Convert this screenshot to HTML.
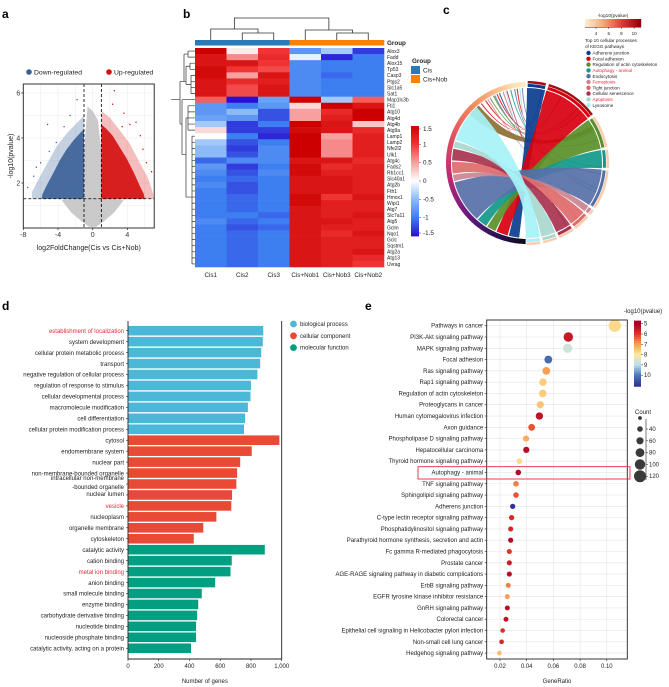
<!DOCTYPE html>
<html><head><meta charset="utf-8">
<style>
html,body{margin:0;padding:0;background:#fff;}
svg{display:block;font-family:"Liberation Sans",Arial,sans-serif;}
</style></head>
<body>
<svg id="fig" width="669" height="687" viewBox="0 0 669 687" xmlns="http://www.w3.org/2000/svg">
<text x="2" y="18" font-size="12" font-weight="bold">a</text>
<text x="183" y="18" font-size="12" font-weight="bold">b</text>
<text x="443" y="14" font-size="12" font-weight="bold">c</text>
<text x="2" y="310" font-size="12" font-weight="bold">d</text>
<text x="365" y="310" font-size="12" font-weight="bold">e</text>
<g id="pa"></g>
<g id="pb"></g>
<g id="pc"></g>
<g id="pd"></g>
<g id="pe"></g>
</svg>
<script>
var NS="http://www.w3.org/2000/svg";
function mk(tag,attrs,parent,txt){var e=document.createElementNS(NS,tag);for(var k in attrs)e.setAttribute(k,attrs[k]);if(txt!==undefined)e.textContent=txt;parent.appendChild(e);return e;}

/* ---------- Panel a data ---------- */
var volXTicks=[-8,-4,0,4];
var volYTicks=[2,4,6];
var volDownSparse=[[-1,1.3],[-1,5.0],[-2,4.6],[-3,4.2],[-4.2,3.6],[-5.2,2.9],[-6.2,2.2],[-7,1.6],[-7,1.3]];
var volDown=[[-1,1.3],[-1,4.4],[-1.5,4.2],[-2.2,3.9],[-3,3.5],[-3.8,3.0],[-4.6,2.4],[-5.3,1.9],[-5.8,1.5],[-5.9,1.3]];
var volUpSparse=[[1,1.3],[1,5.2],[2,4.9],[3,4.4],[4.2,3.8],[5.3,3.0],[6.4,2.2],[7,1.5],[7,1.3]];
var volUp=[[1,1.3],[1,4.6],[1.6,4.4],[2.3,4.1],[3.1,3.6],[3.9,3.1],[4.7,2.5],[5.4,1.9],[5.9,1.5],[6,1.3]];
var volNs=[[-3.6,1.25],[-2.5,0.7],[-1.3,0.3],[-0.4,0.05],[0.4,0.05],[1.3,0.3],[2.5,0.7],[3.6,1.25],[1,1.35],[1,3.4],[0.6,4.8],[0,5.2],[-0.6,5.4],[-1,3.4],[-1,1.35]];
var volOutDown=[[-5.2,4.6],[-7.5,1.8],[-6.8,2.3],[-1.8,5.7],[-4.2,3.8],[-6,2.9],[-3.3,4.5],[-5,3.4],[-6.5,2.7],[-2.6,5.0]];
var volOutUp=[[2.5,6.1],[3.4,4.5],[5,4.7],[6.8,2.5],[2.3,5.5],[5.8,3.5],[4.3,4.6],[6.2,2.9],[3.6,5.1],[5.5,4.1]];

/* ---------- Panel b data ---------- */
var genes=["Alox3","Fadd","Alox15","Tp53","Casp3","Ptgs2","Slc1a5","Sat1","Map1lc3b","Fti1","Atg10","Atg4d","Atg4b","Atg9a","Lamp1","Lamp2","Nfe2l2","Ulk1","Atg4c","Fads2","Rb1cc1","Slc40a1","Atg2b","Fth1","Hmox1","Wipi1","Atg7","Slc7a11","Atg5","Gclm","Nqo1","Gclc","Sqstm1","Atg2a","Atg13","Uvrag"];
var samples=["Cis1","Cis2","Cis3","Cis+Nob1","Cis+Nob3","Cis+Nob2"];
var heat=[
[1.5,0.1,1.0,-0.8,-0.4,-1.3],[1.3,0.6,1.1,-0.1,-1.4,-1.0],[1.3,1.3,1.0,-0.9,-1.0,-1.0],[1.4,1.0,0.9,-0.9,-1.0,-1.0],
[1.4,0.5,1.3,-0.9,-1.1,-1.0],[1.3,1.1,1.2,-0.9,-1.0,-1.0],[1.3,0.9,1.3,-0.9,-1.0,-1.0],[1.3,0.9,1.3,-0.9,-1.0,-1.0],
[0.8,-1.5,-0.7,1.5,-0.4,0.8],[-0.8,-1.0,-0.8,0.2,1.5,1.3],[-0.8,-0.5,-1.2,0.5,1.1,1.5],[-0.7,-0.8,-1.2,0.5,1.2,1.5],
[-0.4,-1.3,-1.0,1.5,1.3,0.3],[0.2,-1.3,-1.3,1.4,1.3,1.1],[0.0,-1.0,-1.4,1.5,0.5,1.2],[-0.4,-1.2,-1.0,1.5,0.6,1.2],
[-0.5,-1.3,-0.9,1.5,0.6,1.2],[-0.5,-1.2,-0.9,1.5,0.6,1.2],[-1.1,-0.9,-0.9,1.3,1.3,1.1],[-0.8,-1.3,-1.0,1.4,1.1,1.2],
[-0.9,-1.2,-0.9,1.4,1.2,1.2],[-1.0,-1.1,-1.0,1.3,1.3,1.2],[-0.9,-1.2,-1.0,1.3,1.3,1.2],[-1.0,-1.2,-1.0,1.3,1.3,1.2],
[-1.0,-1.1,-1.0,1.4,1.0,1.3],[-1.0,-1.1,-1.0,1.4,1.2,1.2],[-1.0,-1.1,-1.0,1.3,1.2,1.2],[-1.0,-1.0,-1.1,1.3,1.2,1.3],
[-0.9,-1.1,-1.0,1.3,1.3,1.2],[-1.0,-1.2,-1.1,1.3,1.2,1.2],[-1.0,-1.1,-1.0,1.3,1.1,1.3],[-1.0,-1.1,-1.0,1.3,1.2,1.2],
[-1.0,-1.1,-1.0,1.3,1.2,1.2],[-1.0,-1.1,-1.0,1.3,1.2,1.3],[-1.0,-1.1,-1.0,1.3,1.2,1.1],[-1.0,-1.1,-1.0,1.3,1.2,1.0]];
var heatTicks=[1.5,1,0.5,0,-0.5,-1,-1.5];

/* ---------- Panel c data ---------- */
var pathNames=["Adherens junction","Focal adhesion","Regulation of actin cytoskeleton","Autophagy - animal","Endocytosis","Ferroptosis","Tight junction","Cellular senescence","Apoptosis","Lysosome"];
var pathColors=["#0b3d8f","#d7000f","#5a8f29","#12998a","#5670a8","#c98593","#e06a6a","#a8324f","#a8d8cf","#a6f2f7"];
var pathRed=[false,false,false,true,false,true,false,false,true,false];
var pathArcStart=[0,15,55,80,95,125,131,145,158,170];
var pathArcEnd=[14,54,79,94,124,130,144,157,169,181];
var geneArcStart=[186,195,205,213,222,256,262,272,282,288];
var geneArcEnd=[194,204,212,221,255,261,271,281,287,318];
var thinPath=[1,1,2,4,0,6,7,3,4,1,8,2,5,9,1,4];
var thinGene=[322,326,330,334,338,341,344,347,350,352,354,333,328,343,336,356];

/* ---------- Panel d data ---------- */
var goTerms=["establishment of localization","system development","cellular protein metabolic process","transport","negative regulation of cellular process","regulation of response to stimulus","cellular developmental process","macromolecule modification","cell differentiation","cellular protein modification process","cytosol","endomembrane system","nuclear part","non-membrane-bounded organelle","intracellular non-membrane|-bounded organelle","nuclear lumen","vesicle","nucleoplasm","organelle membrane","cytoskeleton","catalytic activity","cation binding","metal ion binding","anion binding","small molecule binding","enzyme binding","carbohydrate derivative binding","nucleotide binding","nucleoside phosphate binding","catalytic activity, acting on a protein"];
var goCounts=[880,877,867,860,842,800,797,780,762,755,985,805,730,710,705,677,672,575,490,428,890,675,667,567,480,457,450,443,443,410];
var goCat=[0,0,0,0,0,0,0,0,0,0,1,1,1,1,1,1,1,1,1,1,2,2,2,2,2,2,2,2,2,2];
var goHighlight=["establishment of localization","vesicle","metal ion binding"];
var goCatNames=["biological process","cellular component","molecular function"];
var goXTicks=[0,200,400,600,800,1000];
var goXTickLabels=["0","200","400","600","800","1,000"];

/* ---------- Panel e data ---------- */
var kegg=["Pathways in cancer","PI3K-Akt signaling pathway","MAPK signaling pathway","Focal adhesion","Ras signaling pathway","Rap1 signaling pathway","Regulation of actin cytoskeleton","Proteoglycans in cancer","Human cytomegalovirus infection","Axon guidance","Phospholipase D signaling pathway","Hepatocellular carcinoma","Thyroid hormone signaling pathway","Autophagy - animal","TNF signaling pathway","Sphingolipid signaling pathway","Adherens junction","C-type lectin receptor signaling pathway","Phosphatidylinositol signaling pathway","Parathyroid hormone synthesis, secretion and actin","Fc gamma R-mediated phagocytosis","Prostate cancer","AGE-RAGE signaling pathway in diabetic complications","ErbB signaling pathway","EGFR tyrosine kinase inhibitor resistance","GnRH signaling pathway","Colorectal cancer","Epithelial cell signaling in Helicobacter pylori infection","Non-small cell lung cancer","Hedgehog signaling pathway"];
var keggRatio=[0.106,0.0712,0.0707,0.0562,0.0547,0.0522,0.052,0.0502,0.0495,0.0437,0.0395,0.0397,0.0345,0.0337,0.032,0.032,0.0295,0.0287,0.028,0.028,0.027,0.027,0.027,0.0262,0.0255,0.0255,0.0245,0.022,0.0212,0.0195];
var keggLogP=[7.8,5.5,8.7,10.2,7.0,7.6,7.6,7.5,5.4,6.3,7.2,5.3,7.8,5.2,6.7,6.3,11,5.8,5.8,5.2,6.0,5.6,5.3,6.7,7.0,5.3,5.4,5.9,5.8,7.4];
var keggCount=[125,88,86,68,66,64,64,60,62,55,48,48,42,40,40,40,36,36,34,34,34,34,34,32,32,32,32,28,28,28];
var keggXTicks=[0.02,0.04,0.06,0.08,0.10];
var keggXTickLabels=["0.02","0.04","0.06","0.08","0.10"];
var cbTicks=[5,6,7,8,9,10];
var countTicks=[40,60,80,100,120];

/* ================= Panel a ================= */
(function(){
var g=document.getElementById("pa");
function ax(v){return 58+(v+4)*8.67;} function ay(v){return 228-v*22.5;}
var L=ax(-8),R=ax(7.1),T=ay(6.4),B=ay(0);
mk("rect",{x:L,y:T,width:R-L,height:B-T,fill:"#fff"},g);
for(var v=-8;v<=6;v+=2){var l=mk("line",{x1:ax(v),x2:ax(v),y1:T,y2:B,stroke:"#ececec","stroke-width":0.6},g);}
for(var v=1;v<=6;v+=1){var l=mk("line",{x1:L,x2:R,y1:ay(v),y2:ay(v),stroke:"#ececec","stroke-width":0.6},g);}
function poly(pts,fill,op,name){var s=pts.map(function(p){return ax(p[0])+","+ay(p[1]);}).join(" ");var e=mk("polygon",{points:s,fill:fill,opacity:op,"stroke-linejoin":"round"},g);}
poly(volNs,"#c4c4c4",0.9,"not-significant-points");
poly(volDownSparse,"#5a7aa8",0.35,"down-regulated-sparse-points");
poly(volUpSparse,"#e04545",0.35,"up-regulated-sparse-points");
poly(volDown,"#3a5f96",0.9,"down-regulated-points");
poly(volUp,"#d40d0d",0.9,"up-regulated-points");
volOutDown.forEach(function(p){var c=mk("circle",{cx:ax(p[0]),cy:ay(p[1]),r:0.7,fill:"#3a5f96"},g);});
volOutUp.forEach(function(p){var c=mk("circle",{cx:ax(p[0]),cy:ay(p[1]),r:0.7,fill:"#d40d0d"},g);});
[-1,1].forEach(function(v){var l=mk("line",{x1:ax(v),x2:ax(v),y1:T,y2:B,stroke:"#000","stroke-width":0.8,"stroke-dasharray":"3,2"},g);});
var hl=mk("line",{x1:L,x2:R,y1:ay(1.3),y2:ay(1.3),stroke:"#000","stroke-width":0.8,"stroke-dasharray":"3,2"},g);
var fr=mk("rect",{x:L,y:T,width:R-L,height:B-T,fill:"none",stroke:"#333","stroke-width":1},g);
volXTicks.forEach(function(v){mk("line",{x1:ax(v),x2:ax(v),y1:B,y2:B+2,stroke:"#333","stroke-width":0.8},g);var t=mk("text",{x:ax(v),y:B+9,"font-size":7,"text-anchor":"middle",fill:"#333"},g,String(v));});
volYTicks.forEach(function(v){mk("line",{x1:L-2,x2:L,y1:ay(v),y2:ay(v),stroke:"#333","stroke-width":0.8},g);var t=mk("text",{x:L-3,y:ay(v)+2.5,"font-size":7,"text-anchor":"end",fill:"#333"},g,String(v));});
var xt=mk("text",{x:(L+R)/2,y:250,"font-size":7,"text-anchor":"middle",fill:"#222"},g,"log2FoldChange(Cis vs Cis+Nob)");
var yt=mk("text",{x:0,y:0,"font-size":7,"text-anchor":"middle",fill:"#222",transform:"translate(13,"+((T+B)/2)+") rotate(-90)"},g,"-log10(pvalue)");
var d1=mk("circle",{cx:29,cy:72,r:2.8,fill:"#3a5f96"},g);
var t1=mk("text",{x:34,y:74.5,"font-size":6.8,fill:"#222"},g,"Down-regulated");
var d2=mk("circle",{cx:109,cy:72,r:2.8,fill:"#d40d0d"},g);
var t2=mk("text",{x:114,y:74.5,"font-size":6.8,fill:"#222"},g,"Up-regulated");
})();

/* ================= Panel b ================= */
(function(){
var g=document.getElementById("pb");
var X0=195,Y0=48,CW=31.5,RH=219/36;
var stops=[[-1.5,[42,15,208]],[-1,[61,127,240]],[-0.5,[140,186,248]],[0,[255,255,255]],[0.5,[248,160,160]],[1,[240,52,52]],[1.5,[204,0,0]]];
function col(v){v=Math.max(-1.5,Math.min(1.5,v));for(var i=0;i<stops.length-1;i++){if(v<=stops[i+1][0]){var f=(v-stops[i][0])/(stops[i+1][0]-stops[i][0]);var a=stops[i][1],b=stops[i+1][1];return "rgb("+a.map(function(x,k){return Math.round(x+(b[k]-x)*f);}).join(",")+")";}}return "rgb(204,0,0)";}
heat.forEach(function(row,i){row.forEach(function(v,j){var r=mk("rect",{x:X0+j*CW,y:Y0+i*RH,width:CW+0.3,height:RH+0.3,fill:col(v)},g);});
var t=mk("text",{x:X0+6*CW+3,y:Y0+i*RH+RH/2+1.8,"font-size":5,fill:"#222"},g,genes[i]);});
samples.forEach(function(s,j){var gb=mk("rect",{x:X0+j*CW,y:40,width:CW+0.3,height:5.5,fill:j<3?"#2a7ab5":"#ff8000"},g);
var t=mk("text",{x:X0+j*CW+CW/2,y:277,"font-size":6.3,"text-anchor":"middle",fill:"#222"},g,s);});
var gt=mk("text",{x:387,y:45,"font-size":6.3,"font-weight":"bold",fill:"#222"},g,"Group");
function cx(j){return X0+(j+0.5)*CW;}
var dd="M"+cx(1)+",40V33H"+cx(2)+"V40 M"+cx(0)+",40V29H"+((cx(1)+cx(2))/2)+"V33 M"+cx(4)+",40V33H"+cx(5)+"V40 M"+cx(3)+",40V30H"+((cx(4)+cx(5))/2)+"V33 M"+((cx(0)+(cx(1)+cx(2))/2)/2)+",29V18H"+((cx(3)+(cx(4)+cx(5))/2)/2)+"V30";
var cd=mk("path",{d:dd,fill:"none",stroke:"#333","stroke-width":0.8},g);
function ry(i){return Y0+(i+0.5)*RH;}
var p="";
for(var i=0;i<8;i++){p+="M195,"+ry(i)+"H"+(i<2?188:(i<4?190:191));}
p+="M188,"+ry(0)+"V"+ry(1)+"M190,"+ry(2)+"V"+ry(3)+"M191,"+ry(4)+"V"+ry(7)+"M186,"+((ry(2)+ry(3))/2)+"H190M186,"+((ry(4)+ry(7))/2)+"H191M186,"+((ry(2)+ry(3))/2)+"V"+((ry(4)+ry(7))/2)+"M184,"+((ry(0)+ry(1))/2)+"H188M184,"+((ry(0)+ry(1))/2)+"V"+ry(5)+"H186";
for(var i=8;i<36;i++){p+="M195,"+ry(i)+"H"+(i<9?182:(i<14?188:192));}
p+="M188,"+ry(9)+"V"+ry(13)+"M192,"+ry(14)+"V"+ry(35)+"M186,"+ry(11)+"H188M186,"+ry(24)+"H192M186,"+ry(11)+"V"+ry(24)+"M182,"+ry(8)+"V"+ry(17)+"H186";
p+="M180,"+ry(5)+"H184M180,"+ry(12)+"H182M180,"+ry(5)+"V"+ry(12)+"M171,"+ry(8)+"H180";
var rd=mk("path",{d:p,fill:"none",stroke:"#333","stroke-width":0.7},g);
var lt=mk("text",{x:412,y:63,"font-size":6.3,"font-weight":"bold",fill:"#222"},g,"Group");
var b1=mk("rect",{x:411,y:66,width:9,height:8,fill:"#2a7ab5"},g);
var b2=mk("rect",{x:411,y:75,width:9,height:8,fill:"#ff8000"},g);
var l1=mk("text",{x:423,y:72.5,"font-size":6.3,fill:"#222"},g,"Cis");
var l2=mk("text",{x:423,y:81.5,"font-size":6.3,fill:"#222"},g,"Cis+Nob");
var cbT=126,cbB=236;function cy(v){return cbT+(1.5-v)/3*(cbB-cbT);}
for(var k=0;k<60;k++){var v=1.5-k*3/60;var r=mk("rect",{x:411,y:cy(v),width:8,height:(cbB-cbT)/60+0.4,fill:col(v-0.025)},g);}
heatTicks.forEach(function(v){mk("line",{x1:419,x2:421,y1:cy(v)+(v===1.5?3:v===-1.5?-3:0),y2:cy(v)+(v===1.5?3:v===-1.5?-3:0),stroke:"#333","stroke-width":0.5},g);var t=mk("text",{x:423,y:cy(v)+(v===1.5?5:v===-1.5?-1:2),"font-size":6.3,fill:"#222"},g,String(v));});
})();

/* ================= Panel c ================= */
(function(){
var g=document.getElementById("pc");
var CX=527,CY=163,RI=75;
function P(a,r){var t=a*Math.PI/180;return [CX+r*Math.sin(t),CY-r*Math.cos(t)];}
function arcSeg(a1,a2,r1,r2,fill,name){var p1=P(a1,r2),p2=P(a2,r2),p3=P(a2,r1),p4=P(a1,r1);var lg=(a2-a1)>180?1:0;var d="M"+p1+"A"+r2+","+r2+" 0 "+lg+" 1 "+p2+"L"+p3+"A"+r1+","+r1+" 0 "+lg+" 0 "+p4+"Z";var e=mk("path",{d:d,fill:fill},g);}
function ribbon(a1,a2,b1,b2,fill,op,name){var r=RI;var A1=P(a1,r),A2=P(a2,r),B1=P(b1,r),B2=P(b2,r);var d="M"+A1+"A"+r+","+r+" 0 0 1 "+A2+"Q"+CX+","+CY+" "+B1+"A"+r+","+r+" 0 0 1 "+B2+"Q"+CX+","+CY+" "+A1+"Z";var e=mk("path",{d:d,fill:fill,opacity:op},g);}
thinPath.forEach(function(pi,k){var a=pathArcStart[pi]+(pathArcEnd[pi]-pathArcStart[pi])*((k*37)%10)/10;ribbon(a,a+0.9,thinGene[k],thinGene[k]+0.9,pathColors[pi],0.8,"thin-ribbon");});
ribbon(60,64,310,320,"#8b6b2e",0.9,"ribbon-olive");
pathNames.forEach(function(n,i){ribbon(pathArcStart[i],pathArcEnd[i],geneArcStart[i],geneArcEnd[i],pathColors[i],0.92,"ribbon-"+i);});
var gs=[[180,[10,10,18]],[200,[40,16,80]],[230,[106,26,128]],[260,[192,40,112]],[290,[224,80,96]],[320,[245,144,96]],[350,[253,224,176]],[360,[255,240,208]]];
function gcol(a){for(var i=0;i<gs.length-1;i++){if(a<=gs[i+1][0]){var f=(a-gs[i][0])/(gs[i+1][0]-gs[i][0]);return "rgb("+gs[i][1].map(function(x,k){return Math.round(x+(gs[i+1][1][k]-x)*f);}).join(",")+")";}}return "#fff";}
for(var a=181;a<359;a+=2){arcSeg(a,a+2.2,76,81,gcol(a+1),"gene-ring-segment");}
pathNames.forEach(function(n,i){arcSeg(pathArcStart[i]+0.5,pathArcEnd[i]-0.5,76,79,pathColors[i],"pathway-arc");arcSeg(pathArcStart[i]+0.5,pathArcEnd[i]-0.5,79.5,82,i<2?"#a01010":"#f8cdb0","pathway-pvalue-arc");});
var lt=mk("text",{x:613,y:17,"font-size":4.8,"text-anchor":"middle",fill:"#222"},g,"-log10(pvalue)");
var ls=[[253,235,205],[245,165,110],[220,60,50],[150,0,10]];
for(var k=0;k<28;k++){var f=k/27*3;var i0=Math.min(2,Math.floor(f)),ff=f-i0;var c="rgb("+ls[i0].map(function(x,m){return Math.round(x+(ls[i0+1][m]-x)*ff);}).join(",")+")";var r=mk("rect",{x:585+k*2,y:19,width:2.2,height:8,fill:c},g);}
mk("line",{x1:585,x2:641,y1:27.5,y2:27.5,stroke:"#222","stroke-width":0.6},g);
[4,6,8,10].forEach(function(v,k){var x=596+k*12.7;mk("line",{x1:x,x2:x,y1:27,y2:29,stroke:"#222","stroke-width":0.5},g);var t=mk("text",{x:x,y:35,"font-size":4.5,"text-anchor":"middle",fill:"#222"},g,String(v));});
var h1=mk("text",{x:585,y:42,"font-size":4.6,fill:"#222"},g,"Top 10 cellular processes");
var h2=mk("text",{x:585,y:48,"font-size":4.6,fill:"#222"},g,"of KEGG pathways");
pathNames.forEach(function(n,i){var y=53+i*5.8;var c=mk("circle",{cx:588.5,cy:y,r:2.2,fill:pathColors[i]},g);var t=mk("text",{x:592.5,y:y+1.6,"font-size":4.6,fill:pathRed[i]?"#e8283a":"#222"},g,n);});
})();

/* ================= Panel d ================= */
(function(){
var g=document.getElementById("pd");
var X0=128,SC=0.1537,Y0=330.7,ST=10.95,BH=9.6,T=321,B=659;
var cols=["#4cb8d8","#e84a35","#009f82"];
function bx(v){return X0+v*SC;}
goCounts.forEach(function(v,i){var y=Y0+i*ST;var r=mk("rect",{x:X0+0.5,y:y-BH/2,width:bx(v)-X0-0.5,height:BH,fill:cols[goCat[i]]},g);
mk("line",{x1:X0-2,x2:X0,y1:y,y2:y,stroke:"#222","stroke-width":0.6},g);
var name=goTerms[i];var hl=goHighlight.indexOf(name)>=0;var parts=name.split("|");
parts.forEach(function(pt,k){var yy=parts.length>1?y-4+k*9:y+2.2;if(i===15)yy=y+1;var t=mk("text",{x:X0-4,y:yy,"font-size":6,"text-anchor":"end",fill:hl?"#e8283a":"#222"},g,pt);});});
var ax=mk("path",{d:"M"+X0+","+T+"V"+B+"H"+bx(1000)+"V"+T,fill:"none",stroke:"#222","stroke-width":0.9},g);
goXTicks.forEach(function(v,k){mk("line",{x1:bx(v),x2:bx(v),y1:B,y2:B+2,stroke:"#222","stroke-width":0.6},g);var t=mk("text",{x:bx(v),y:B+9,"font-size":6,"text-anchor":"middle",fill:"#222"},g,goXTickLabels[k]);});
var xt=mk("text",{x:(X0+bx(1000))/2,y:683,"font-size":6,"text-anchor":"middle",fill:"#222"},g,"Number of genes");
goCatNames.forEach(function(n,i){var y=324+i*11.8;var c=mk("circle",{cx:293.5,cy:y,r:3.4,fill:cols[i]},g);var t=mk("text",{x:300,y:y+2,"font-size":6,fill:"#222"},g,n);});
})();

/* ================= Panel e ================= */
(function(){
var g=document.getElementById("pe");
var L=486.7,R=627.3,T=320,B=659,Y0=325.7,ST=11.29;
function ex(v){return 473.3+v*1335;} function ey(i){return Y0+i*ST;}
var rs=[[5,[165,0,38]],[6,[224,52,38]],[7,[249,158,80]],[8,[254,233,154]],[9,[184,224,238]],[10,[74,120,184]],[11,[49,54,149]]];
function pc(v){v=Math.max(5,Math.min(11,v));for(var i=0;i<rs.length-1;i++){if(v<=rs[i+1][0]){var f=(v-rs[i][0]);return "rgb("+rs[i][1].map(function(x,k){return Math.round(x+(rs[i+1][1][k]-x)*f);}).join(",")+")";}}return "rgb(49,54,149)";}
function rad(c){return 1.2+c*0.04;}
keggXTicks.forEach(function(v){var l=mk("line",{x1:ex(v),x2:ex(v),y1:T,y2:B,stroke:"#e4e4e4","stroke-width":0.6},g);});
kegg.forEach(function(n,i){var l=mk("line",{x1:L,x2:R,y1:ey(i),y2:ey(i),stroke:"#e4e4e4","stroke-width":0.6},g);
mk("line",{x1:L-2,x2:L,y1:ey(i),y2:ey(i),stroke:"#222","stroke-width":0.6},g);
var t=mk("text",{x:L-3.5,y:ey(i)+2,"font-size":6,"text-anchor":"end",fill:"#222"},g,n);});
kegg.forEach(function(n,i){var c=mk("circle",{cx:ex(keggRatio[i]),cy:ey(i),r:rad(keggCount[i]),fill:pc(keggLogP[i])},g);});
var fr=mk("rect",{x:L,y:T,width:R-L,height:B-T,fill:"none",stroke:"#222","stroke-width":0.9},g);
keggXTicks.forEach(function(v,k){mk("line",{x1:ex(v),x2:ex(v),y1:B,y2:B+2,stroke:"#222","stroke-width":0.6},g);var t=mk("text",{x:ex(v),y:B+9,"font-size":6,"text-anchor":"middle",fill:"#222"},g,keggXTickLabels[k]);});
var xt=mk("text",{x:(L+R)/2,y:683,"font-size":6,"text-anchor":"middle",fill:"#222"},g,"GeneRatio");
var box=mk("rect",{x:418,y:466.7,width:212,height:12.3,fill:"none",stroke:"#e8283a","stroke-width":0.9},g);
var ct=mk("text",{x:643,y:313,"font-size":6,"text-anchor":"middle",fill:"#222"},g,"-log10(pvalue)");
function cyy(v){return 323.7+(v-5)*10.3;}
for(var k=0;k<32;k++){var v=4.7+k*0.2;var r=mk("rect",{x:634,y:cyy(v),width:7,height:2.3,fill:pc(v+0.1)},g);}
cbTicks.forEach(function(v){mk("line",{x1:641,x2:643,y1:cyy(v),y2:cyy(v),stroke:"#222","stroke-width":0.5},g);var t=mk("text",{x:644,y:cyy(v)+2,"font-size":6,fill:"#222"},g,String(v));});
var st=mk("text",{x:643,y:414,"font-size":6,"text-anchor":"middle",fill:"#222"},g,"Count");
var sc0=mk("circle",{cx:640,cy:418,r:1.9,fill:"#3a3a3a"},g);
mk("line",{x1:646,x2:646,y1:419,y2:480,stroke:"#222","stroke-width":0.6},g);
countTicks.forEach(function(v,k){var y=429+k*11.8;var c=mk("circle",{cx:640,cy:y,r:rad(v),fill:"#3a3a3a"},g);mk("line",{x1:646,x2:648,y1:y,y2:y,stroke:"#222","stroke-width":0.5},g);var t=mk("text",{x:649,y:y+2,"font-size":6,fill:"#222"},g,String(v));});
})();
</script>
</body></html>
